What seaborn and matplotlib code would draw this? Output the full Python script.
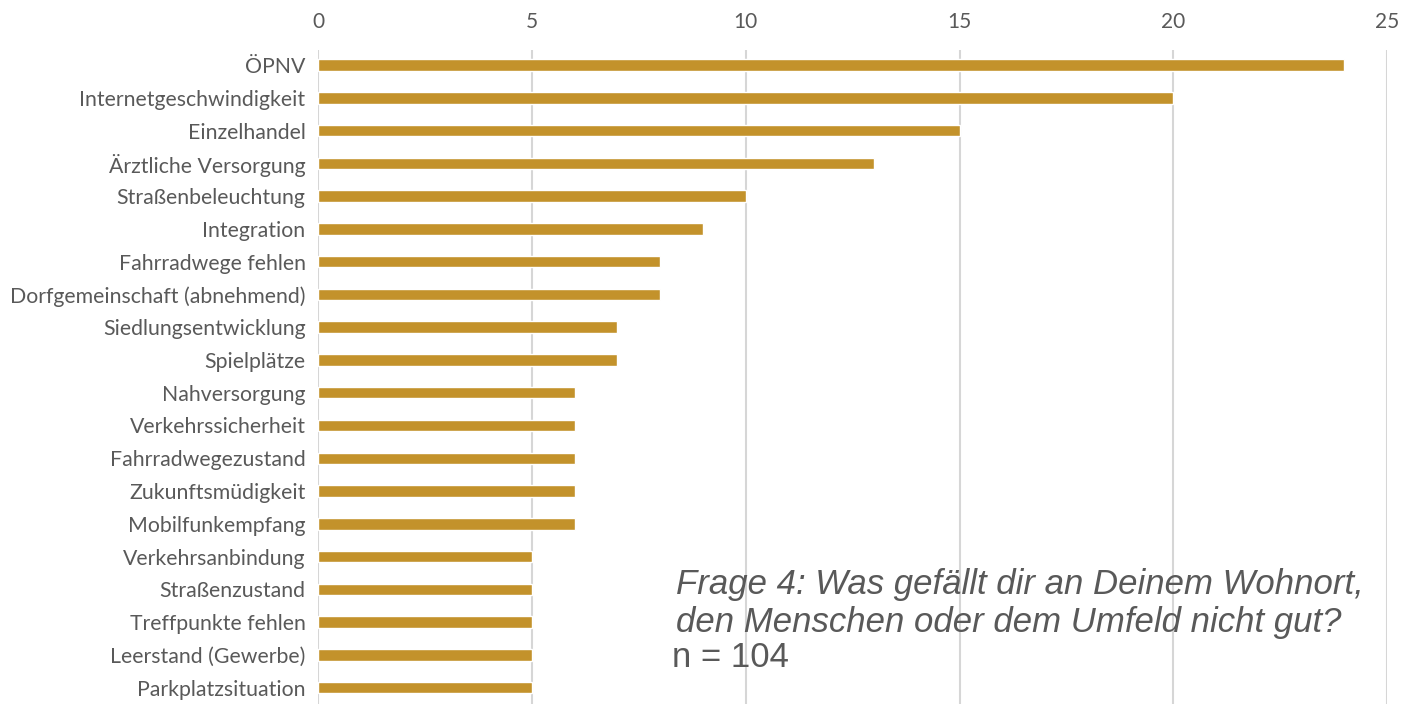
import matplotlib
matplotlib.use('Agg')
import matplotlib.pyplot as plt
import seaborn as sns
import pandas as pd

# Data
categories = ['ÖPNV', 'Internetgeschwindigkeit', 'Einzelhandel', 'Ärztliche Versorgung',
              'Straßenbeleuchtung', 'Integration', 'Fahrradwege fehlen',
              'Dorfgemeinschaft (abnehmend)', 'Siedlungsentwicklung', 'Spielplätze',
              'Nahversorgung', 'Verkehrssicherheit', 'Fahrradwegezustand',
              'Zukunftsmüdigkeit', 'Mobilfunkempfang', 'Verkehrsanbindung',
              'Straßenzustand', 'Treffpunkte fehlen', 'Leerstand (Gewerbe)',
              'Parkplatzsituation']
counts = [24, 20, 15, 13, 10, 9, 8, 8, 7, 7, 6, 6, 6, 6, 6, 5, 5, 5, 5, 5]
xticks = [0, 5, 10, 15, 20, 25]
note_lines = ['Frage 4: Was gefällt dir an Deinem Wohnort,',
              'den Menschen oder dem Umfeld nicht gut?']
n_text = 'n = 104'

df = pd.DataFrame({'Thema': categories, 'Anzahl': counts})

sns.set_style('white')
plt.rcParams['font.family'] = ['Lato', 'DejaVu Sans']

fig = plt.figure(figsize=(14.18, 7.04), dpi=100)
ax = fig.add_axes([0.2243, 0.0, 0.754, 0.929])

sns.barplot(data=df, x='Anzahl', y='Thema', orient='h', color='#C3922B',
            width=0.35, saturation=1, ax=ax)

ax.set_xlim(0, 25)
ax.set_ylim(19.5, -0.46)
ax.set_xticks(xticks)
ax.xaxis.tick_top()
ax.tick_params(axis='x', length=0, pad=13, labelsize=15, labelcolor='#595959')
ax.tick_params(axis='y', length=0, pad=9, labelsize=15.3, labelcolor='#595959')
ax.grid(axis='x', color='#D6D6D6', linewidth=1.5)
ax.set_axisbelow(True)
ax.set_xlabel('')
ax.set_ylabel('')
for s in ax.spines.values():
    s.set_visible(False)

# note in the lower right, partly running off the edge as in the original
for y, line in zip([594, 632], note_lines):
    fig.text(676 / 1418, 1 - y / 704, line, fontsize=25, style='italic',
             color='#595959', family='Liberation Sans', va='baseline', ha='left')
fig.text(672 / 1418, 1 - 667 / 704, n_text, fontsize=25, color='#595959',
         family='Liberation Sans', va='baseline', ha='left')

fig.savefig('out.png', dpi=100)
